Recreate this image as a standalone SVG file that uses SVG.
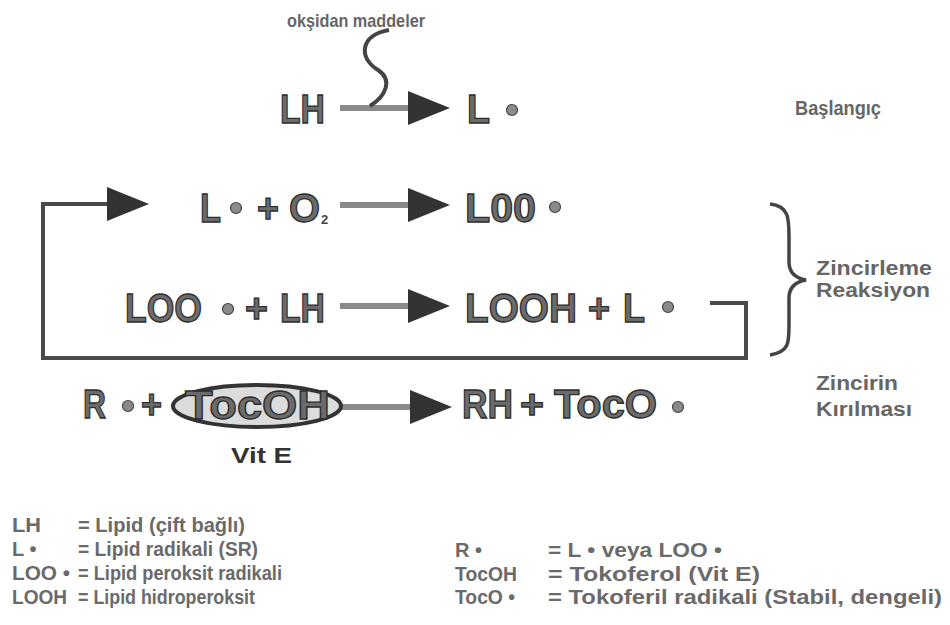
<svg xmlns="http://www.w3.org/2000/svg" width="950" height="625" viewBox="0 0 950 625">
<style>
.big{font-family:"Liberation Sans",Arial,sans-serif;font-weight:bold;font-size:40px;fill:#6b6b6b;stroke:#2e2e2e;stroke-width:1.3}
.sub{font-family:"Liberation Sans",Arial,sans-serif;font-weight:bold;font-size:13px;fill:#444}
.lbl{font-family:"Liberation Sans",Arial,sans-serif;font-weight:bold;font-size:20px;fill:#666}
.top{font-family:"Liberation Sans",Arial,sans-serif;font-weight:bold;font-size:19px;fill:#666}
.leg{font-family:"Liberation Sans",Arial,sans-serif;font-weight:bold;font-size:20px;fill:#6a6a6a}
.vit{font-family:"Liberation Sans",Arial,sans-serif;font-weight:bold;font-size:22px;fill:#333}
.ln{fill:none;stroke:#8a8a8a;stroke-width:6}
.lp{fill:none;stroke:#4a4a4a;stroke-width:4}
.head{fill:#333}
.dot{fill:#8a8a8a;stroke:#444;stroke-width:1.2}
</style>
<defs>
<polygon id="ah" points="0,-17 42,0 0,17" class="head"/>
</defs>

<g id="connectors">
  <!-- top arrow -->
  <line class="ln" x1="340" y1="108" x2="412" y2="108"/>
  <use href="#ah" x="408" y="108"/>
  <path d="M389,30 C360,35 358,58 378,70 C393,80 386,96 370,106" fill="none" stroke="#444" stroke-width="4"/>
  <!-- row 2 -->
  <line class="ln" x1="340" y1="205" x2="412" y2="205"/>
  <use href="#ah" x="408" y="205"/>
  <!-- row 3 -->
  <line class="ln" x1="340" y1="306" x2="412" y2="306"/>
  <use href="#ah" x="408" y="306"/>
  <!-- row 4 -->
  <line class="ln" x1="340" y1="407" x2="414" y2="407"/>
  <use href="#ah" x="410" y="407"/>
  <!-- loop -->
  <path class="lp" d="M710,303 H746 V358 H43 V204 H112"/>
  <use href="#ah" x="107" y="204"/>
  <!-- brace -->
  <path d="M770,204 C790,206 789,220 789,240 L789,262 C789,272 795,278 806,280 C795,282 789,288 789,298 L789,322 C789,342 790,352 770,355" fill="none" stroke="#444" stroke-width="3.5"/>
</g>

<g id="label-top">
  <text class="top" x="287" y="27" textLength="138" lengthAdjust="spacingAndGlyphs">okşidan maddeler</text>
</g>

<g id="node-LH-top">
  <text class="big" x="280" y="123" textLength="45" lengthAdjust="spacingAndGlyphs">LH</text>
</g>
<g id="node-L-top">
  <text class="big" x="467" y="123" textLength="23" lengthAdjust="spacingAndGlyphs">L</text>
  <circle class="dot" cx="512" cy="110" r="5.5"/>
</g>
<g id="label-baslangic">
  <text class="lbl" x="795" y="115" textLength="86" lengthAdjust="spacingAndGlyphs">Başlangıç</text>
</g>

<g id="node-row2-left">
  <text class="big" x="200" y="222" textLength="21" lengthAdjust="spacingAndGlyphs">L</text>
  <circle class="dot" cx="236" cy="208" r="5.5"/>
  <text class="big" x="257" y="222" textLength="22" lengthAdjust="spacingAndGlyphs">+</text>
  <text class="big" x="289" y="222" textLength="31" lengthAdjust="spacingAndGlyphs">O</text>
  <text class="sub" x="321" y="224">2</text>
</g>
<g id="node-row2-right">
  <text class="big" x="465" y="222" textLength="71" lengthAdjust="spacingAndGlyphs">L00</text>
  <circle class="dot" cx="555" cy="207" r="5.5"/>
</g>

<g id="node-row3-left">
  <text class="big" x="125" y="322" textLength="77" lengthAdjust="spacingAndGlyphs">LOO</text>
  <circle class="dot" cx="228" cy="309" r="5.5"/>
  <text class="big" x="245" y="322" textLength="23" lengthAdjust="spacingAndGlyphs">+</text>
  <text class="big" x="280" y="322" textLength="45" lengthAdjust="spacingAndGlyphs">LH</text>
</g>
<g id="node-row3-right">
  <text class="big" x="465" y="322" textLength="112" lengthAdjust="spacingAndGlyphs">LOOH</text>
  <text class="big" x="588" y="322" textLength="22" lengthAdjust="spacingAndGlyphs">+</text>
  <text class="big" x="623" y="322" textLength="22" lengthAdjust="spacingAndGlyphs">L</text>
  <circle class="dot" cx="668" cy="307" r="5.5"/>
</g>
<g id="label-zincirleme">
  <text class="lbl" x="816" y="275" textLength="116" lengthAdjust="spacingAndGlyphs">Zincirleme</text>
  <text class="lbl" x="816" y="297" textLength="114" lengthAdjust="spacingAndGlyphs">Reaksiyon</text>
</g>

<g id="node-row4-left">
  <text class="big" x="83" y="418" textLength="23" lengthAdjust="spacingAndGlyphs">R</text>
  <circle class="dot" cx="128" cy="406" r="5.5"/>
  <text class="big" x="141" y="418" textLength="21" lengthAdjust="spacingAndGlyphs">+</text>
  <ellipse cx="257" cy="406" rx="84" ry="21" fill="#dcdcdc" stroke="#333" stroke-width="4"/>
  <text class="big" x="185" y="419" textLength="145" lengthAdjust="spacingAndGlyphs">TocOH</text>
  <text class="vit" x="231" y="463" textLength="61" lengthAdjust="spacingAndGlyphs">Vit E</text>
</g>
<g id="node-row4-right">
  <text class="big" x="462" y="418" textLength="51" lengthAdjust="spacingAndGlyphs">RH</text>
  <text class="big" x="520" y="418" textLength="24" lengthAdjust="spacingAndGlyphs">+</text>
  <text class="big" x="554" y="418" textLength="103" lengthAdjust="spacingAndGlyphs">TocO</text>
  <circle class="dot" cx="678" cy="407" r="5.5"/>
</g>
<g id="label-zincirin">
  <text class="lbl" x="816" y="390" textLength="82" lengthAdjust="spacingAndGlyphs">Zincirin</text>
  <text class="lbl" x="816" y="416" textLength="96" lengthAdjust="spacingAndGlyphs">Kırılması</text>
</g>

<g id="legend">
  <text class="leg" x="12" y="532" textLength="29" lengthAdjust="spacingAndGlyphs">LH</text>
  <text class="leg" x="78" y="532" textLength="167" lengthAdjust="spacingAndGlyphs">= Lipid (çift bağlı)</text>
  <text class="leg" x="12" y="556">L •</text>
  <text class="leg" x="78" y="556" textLength="180" lengthAdjust="spacingAndGlyphs">= Lipid radikali (SR)</text>
  <text class="leg" x="12" y="580" textLength="58" lengthAdjust="spacingAndGlyphs">LOO •</text>
  <text class="leg" x="78" y="580" textLength="204" lengthAdjust="spacingAndGlyphs">= Lipid  peroksit radikali</text>
  <text class="leg" x="12" y="604" textLength="55" lengthAdjust="spacingAndGlyphs">LOOH</text>
  <text class="leg" x="78" y="604" textLength="177" lengthAdjust="spacingAndGlyphs">= Lipid hidroperoksit</text>
  <text class="leg" x="455" y="557">R •</text>
  <text class="leg" x="548" y="557" textLength="174" lengthAdjust="spacingAndGlyphs">= L • veya LOO •</text>
  <text class="leg" x="455" y="581" textLength="62" lengthAdjust="spacingAndGlyphs">TocOH</text>
  <text class="leg" x="548" y="581" textLength="212" lengthAdjust="spacingAndGlyphs">= Tokoferol (Vit E)</text>
  <text class="leg" x="455" y="604" textLength="60" lengthAdjust="spacingAndGlyphs">TocO •</text>
  <text class="leg" x="548" y="604" textLength="394" lengthAdjust="spacingAndGlyphs">= Tokoferil radikali (Stabil, dengeli)</text>
</g>
</svg>
